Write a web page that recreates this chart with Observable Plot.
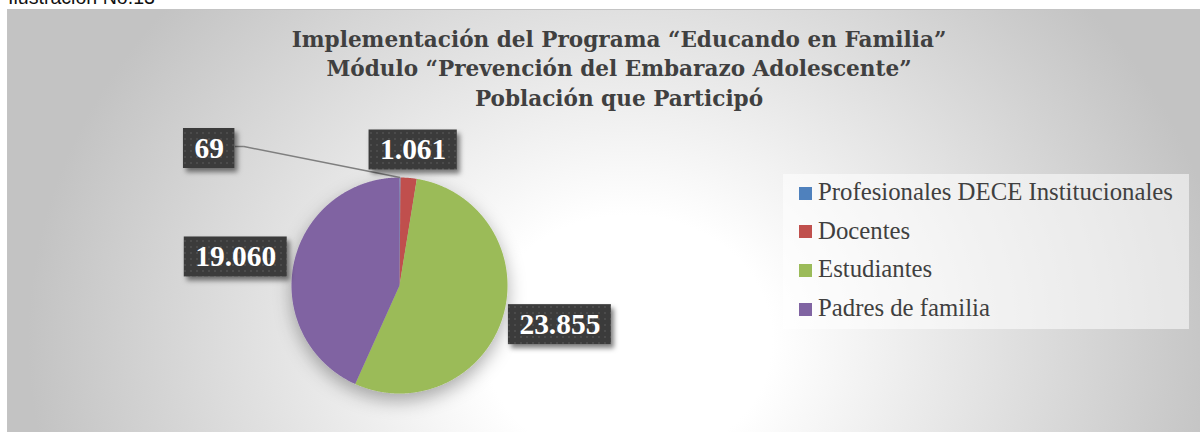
<!DOCTYPE html>
<html>
<head>
<meta charset="utf-8">
<script src="https://cdn.jsdelivr.net/npm/d3@7"></script>
<script src="https://cdn.jsdelivr.net/npm/@observablehq/plot@0.6"></script>
<style>
html,body{margin:0;padding:0;width:1200px;height:432px;overflow:hidden;background:#fff;}
#cap{position:absolute;left:8px;font-family:'Liberation Sans',Arial,sans-serif;color:#111;white-space:nowrap;}
#chart{position:absolute;left:7px;top:9px;width:1200px;height:430px;border:1px solid #c4c4c4;box-sizing:border-box;overflow:hidden;
  background: radial-gradient(600px 520px at 620px 330px, #ffffff 0%, #ffffff 24%, #c3c3c3 100%);}
#plot{position:absolute;left:0;top:0;}
#title{position:absolute;left:211px;width:800px;text-align:center;font-family:'DejaVu Serif',serif;font-weight:bold;color:#404040;white-space:nowrap;}
#legend{position:absolute;left:775px;top:164px;width:406px;height:155px;background:rgba(255,255,255,0.55);}
.sw{position:absolute;width:13px;height:13px;}
.lt{position:absolute;font-family:'Liberation Serif',serif;color:#404040;white-space:nowrap;}
</style>
</head>
<body>
<div id="cap"></div>
<div id="chart">
  <div id="plot"></div>
  <div id="title"></div>
  <div id="legend"></div>
</div>
<script>
// ---- data ----
const caption = "Ilustración No.13";
const categories = ["Profesionales DECE Institucionales", "Docentes", "Estudiantes", "Padres de familia"];
const values = [69, 1061, 23855, 19060];
const valueLabels = ["69", "1.061", "23.855", "19.060"];
const colors = ["#4F81BD", "#C0504D", "#9BBB59", "#8064A2"];
const titleLines = ["Implementación del Programa “Educando en Familia”", "Módulo “Prevención del Embarazo Adolescente”", "Población que Participó"];

// ---- layout ----
const W = 1193, H = 423;
const R = 108, CX = 391, CY = 275;
const canvas = document.createElement("canvas");
const ctx = canvas.getContext("2d");
function measure(text, font) { ctx.font = font; return ctx.measureText(text).width; }

// caption (cut by the top edge, as in the source)
const cfs = 100 * 147 / measure(caption, "100px 'Liberation Sans'");
const cap = document.getElementById("cap");
cap.textContent = caption;
cap.style.fontSize = cfs + "px";
cap.style.lineHeight = cfs + "px";
cap.style.top = (5 - 0.8525 * cfs) + "px";

// title
const tfs = 100 * 655 / measure(titleLines[0], "bold 100px 'DejaVu Serif'");
const tlh = 29.5;
const title = document.getElementById("title");
title.style.fontSize = tfs + "px";
title.style.lineHeight = tlh + "px";
title.style.top = (37 - ((tlh - 1.164 * tfs) / 2 + 0.928 * tfs)) + "px";
title.innerHTML = titleLines.map(t => `<div>${t}</div>`).join("");

// legend
const lfs = 100 * 355 / measure(categories[0], "100px 'Liberation Serif'");
const legend = document.getElementById("legend");
categories.forEach((c, i) => {
  const cy = 183 + i * 38.7 - 164;
  const sw = document.createElement("div");
  sw.className = "sw"; sw.style.background = colors[i];
  sw.style.left = (791 - 775) + "px"; sw.style.top = (cy - 6.5) + "px";
  legend.appendChild(sw);
  const t = document.createElement("div");
  t.className = "lt"; t.textContent = c;
  t.style.fontSize = lfs + "px"; t.style.lineHeight = lfs + "px";
  t.style.left = (810 - 775) + "px";
  t.style.top = (cy + 7.7 - 0.8375 * lfs) + "px";
  legend.appendChild(t);
});

// pie geometry
const arcs = d3.pie().sort(null).value(d => d)(values);
const slicePts = [];
arcs.forEach((a, i) => {
  slicePts.push({name: categories[i], x: 0, y: 0});
  const n = Math.max(2, Math.ceil((a.endAngle - a.startAngle) / 0.005));
  for (let k = 0; k <= n; k++) {
    const t = a.startAngle + (a.endAngle - a.startAngle) * k / n;
    slicePts.push({name: categories[i], x: Math.sin(t), y: Math.cos(t)});
  }
  slicePts.push({name: categories[i], x: 0, y: 0});
});

// labels (outside end)
const labFont = 100 * 81 / measure(valueLabels[3], "bold 100px 'Liberation Serif'");
const gap = 8, boxH = 40, pad = 11;
const moved = {0: [-191, -1]}; // first label moved aside (leader line)
const labs = arcs.map((a, i) => {
  const m = (a.startAngle + a.endAngle) / 2;
  const w = measure(valueLabels[i], `bold ${labFont}px 'Liberation Serif'`) + 2 * pad;
  let cx = (R + gap) * Math.sin(m) + Math.sin(m) * w / 2;
  let cy = (R + gap) * Math.cos(m) + Math.cos(m) * boxH / 2;
  if (moved[i]) { cx += moved[i][0]; cy -= moved[i][1]; }
  return {label: valueLabels[i], m, w,
    x: cx / R, y: cy / R,
    x1: (cx - w / 2) / R, x2: (cx + w / 2) / R,
    y1: (cy - boxH / 2) / R, y2: (cy + boxH / 2) / R};
});
const leaders = [];
Object.keys(moved).forEach(k => {
  const L = labs[k];
  const ex = L.x2, ey = L.y + 2 / R;
  const bx = ex + 9 / R;
  leaders.push({x1: ex, y1: ey, x2: bx, y2: ey});
  leaders.push({x1: bx, y1: ey, x2: Math.sin(L.m), y2: Math.cos(L.m)});
});

const plot = Plot.plot({
  width: W, height: H,
  margin: 0,
  style: {background: "transparent", overflow: "visible"},
  x: {domain: [-1, 1], range: [CX - R, CX + R], axis: null},
  y: {domain: [-1, 1], range: [CY + R, CY - R], axis: null},
  color: {domain: categories, range: colors},
  marks: [
    Plot.line(slicePts, {x: "x", y: "y", z: "name", fill: "name", stroke: "none"}),
    Plot.link(leaders, {x1: "x1", y1: "y1", x2: "x2", y2: "y2", stroke: "#7f7f7f", strokeWidth: 1.5}),
    Plot.rect(labs, {x1: "x1", x2: "x2", y1: "y1", y2: "y2", fill: "url(#dots)"}),
    Plot.text(labs, {x: "x", y: "y", text: "label", fill: "white", fontSize: labFont, fontWeight: "bold",
      fontFamily: "'Liberation Serif', serif", textAnchor: "middle", lineAnchor: "middle"})
  ]
});

const svg = d3.select(plot);
const defs = svg.insert("defs", ":first-child");
const pat = defs.append("pattern").attr("id", "dots").attr("width", 6).attr("height", 6).attr("patternUnits", "userSpaceOnUse");
pat.append("rect").attr("width", 6).attr("height", 6).attr("fill", "#3b3b3b");
pat.append("circle").attr("cx", 3).attr("cy", 3).attr("r", 1).attr("fill", "#515151");
const f1 = defs.append("filter").attr("id", "boxShadow").attr("x", "-20%").attr("y", "-30%").attr("width", "150%").attr("height", "170%");
f1.append("feDropShadow").attr("dx", 3).attr("dy", 4).attr("stdDeviation", 2.5).attr("flood-color", "#000").attr("flood-opacity", 0.5);
const f2 = defs.append("filter").attr("id", "pieShadow").attr("x", "-30%").attr("y", "-30%").attr("width", "160%").attr("height", "170%");
f2.append("feDropShadow").attr("dx", 0).attr("dy", 7).attr("stdDeviation", 9).attr("flood-color", "#000").attr("flood-opacity", 0.32);
svg.selectAll('g[aria-label="rect"]').attr("filter", "url(#boxShadow)");
svg.selectAll('g[aria-label="line"]').attr("filter", "url(#pieShadow)");

document.getElementById("plot").appendChild(plot);
</script>
</body>
</html>
